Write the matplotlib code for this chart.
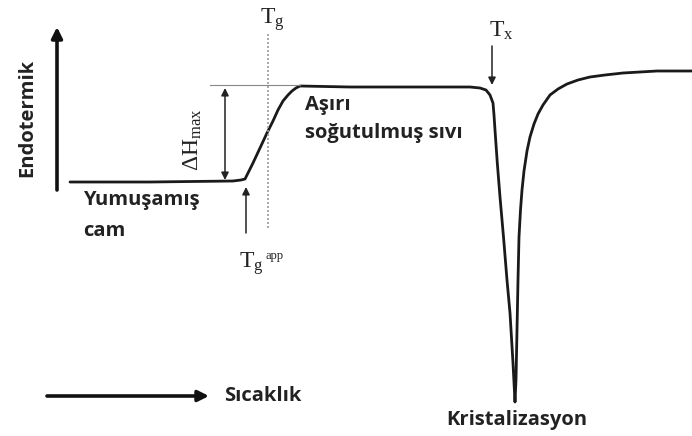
import matplotlib
matplotlib.use("Agg")
import matplotlib.pyplot as plt

plt.rcParams["mathtext.fontset"] = "custom"
plt.rcParams["mathtext.rm"] = "Liberation Serif"
plt.rcParams["mathtext.it"] = "Liberation Serif:italic"

# DSC trace: temperature (arbitrary units) vs heat flow (endothermic up)
temperature = [70, 150, 233, 241, 245, 249, 253, 260, 267, 273, 278, 283, 288,
               292, 296, 300, 350, 420, 470, 480, 486, 490, 493, 494, 495, 497.3,
               500, 503.5, 507, 510, 513, 515, 516, 517, 518, 519, 520.5, 522, 524,
               527, 530, 534, 538, 543, 550, 558, 567, 578, 590, 605, 623, 640,
               657, 675, 692]
heat_flow = [254, 254, 255, 256, 257, 265, 273, 288, 303, 315, 326, 335, 341,
             345, 348, 350, 349, 349, 349, 348, 346, 341, 333, 321, 306, 273,
             239, 199, 156, 123, 73, 34, 56, 106, 156, 199, 226, 246, 265,
             285, 299, 312, 322, 331, 341, 347, 352, 356, 359, 361, 363, 364,
             365, 365, 365]

# annotation anchors (same units)
baseline_glass = 255
plateau_liquid = 350
tg_onset = 246
tg_mid = 268
tx_onset = 492

fig = plt.figure(figsize=(6.92, 4.36), dpi=100)
ax = fig.add_axes([0, 0, 1, 1])
ax.set_xlim(0, 692)
ax.set_ylim(0, 436)
ax.axis("off")

ax.plot(temperature, heat_flow, color="#1a1a1a", lw=2.0, solid_capstyle="round",
        solid_joinstyle="round")

bold = dict(family="Open Sans", weight="bold", color="#222222")
serif = dict(color="#222222")
label_size = 14.5

# axis arrows
ax.annotate("", xy=(57, 409), xytext=(57, 246),
            arrowprops=dict(arrowstyle="-|>", lw=2.6, color="#111111",
                            mutation_scale=16, shrinkA=0, shrinkB=0))
ax.annotate("", xy=(209, 40), xytext=(47, 40),
            arrowprops=dict(arrowstyle="-|>", lw=2.6, color="#111111",
                            mutation_scale=16, shrinkA=0, shrinkB=0))
ax.text(27, 318, "Endotermik", rotation=90, ha="center", va="center",
        fontsize=label_size, **bold)
ax.text(224, 40, "Sıcaklık", ha="left", va="center", fontsize=label_size, **bold)

# glass transition guides
ax.plot([210, 300], [351, 351], color="#888888", lw=0.8)
ax.plot([tg_mid, tg_mid], [208, 404], color="#999999", lw=1.2, ls=(0, (1.2, 1.2)))
ax.annotate("", xy=(225, plateau_liquid - 2), xytext=(225, baseline_glass + 1),
            arrowprops=dict(arrowstyle="<|-|>", lw=1.1, color="#222222",
                            mutation_scale=11, shrinkA=0, shrinkB=0))
ax.annotate("", xy=(tg_onset, 249), xytext=(tg_onset, 203),
            arrowprops=dict(arrowstyle="-|>", lw=1.1, color="#222222",
                            mutation_scale=11, shrinkA=0, shrinkB=0))
ax.annotate("", xy=(tx_onset, 351), xytext=(tx_onset, 390),
            arrowprops=dict(arrowstyle="-|>", lw=1.1, color="#222222",
                            mutation_scale=11, shrinkA=0, shrinkB=0))

# serif symbols
ax.text(272, 416, r"$\mathrm{T_g}$", ha="center", va="center", fontsize=17, **serif)
ax.text(501, 406, r"$\mathrm{T_x}$", ha="center", va="center", fontsize=17, **serif)
ax.text(192, 296, r"$\mathrm{\Delta H_{max}}$", rotation=90, ha="center",
        va="center", fontsize=17, **serif)
ax.text(251, 172, r"$\mathrm{T_g}$", ha="center", va="center", fontsize=17, **serif)
ax.text(266, 180, "app", ha="left", va="center", fontsize=9,
        family="Liberation Serif", color="#222222")

# region labels
ax.text(83, 236, "Yumuşamış", ha="left", va="center", fontsize=label_size, **bold)
ax.text(83, 205, "cam", ha="left", va="center", fontsize=label_size, **bold)
ax.text(305, 331, "Aşırı", ha="left", va="center", fontsize=label_size, **bold)
ax.text(305, 303, "soğutulmuş sıvı", ha="left", va="center", fontsize=label_size, **bold)
ax.text(517, 16, "Kristalizasyon", ha="center", va="center", fontsize=label_size, **bold)

fig.savefig("out.png", dpi=100, facecolor="white")
